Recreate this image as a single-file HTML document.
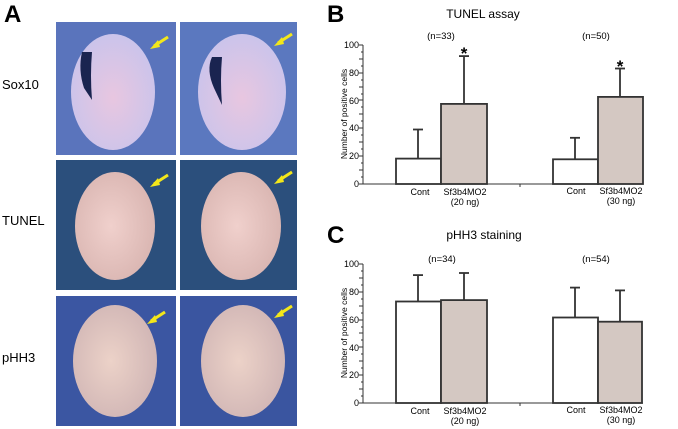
<!DOCTYPE html>
<html><head><style>body{margin:0;background:#fff}svg{display:block}text{font-family:"Liberation Sans",sans-serif}</style></head>
<body>
<svg width="678" height="429" viewBox="0 0 678 429" xmlns="http://www.w3.org/2000/svg">
<defs>
<radialGradient id="e1" cx="0.5" cy="0.55" r="0.6"><stop offset="0" stop-color="#e8c6e0"/><stop offset="1" stop-color="#c8c4ec"/></radialGradient>
<radialGradient id="e2" cx="0.45" cy="0.5" r="0.6"><stop offset="0" stop-color="#f0d0cc"/><stop offset="1" stop-color="#d8b4b0"/></radialGradient>
<radialGradient id="e3" cx="0.45" cy="0.5" r="0.6"><stop offset="0" stop-color="#ecd2c8"/><stop offset="1" stop-color="#cfb4b4"/></radialGradient>
</defs>
<text x="4" y="22" font-size="24" font-weight="bold">A</text>
<text x="2" y="89" font-size="13">Sox10</text>
<text x="2" y="225" font-size="13">TUNEL</text>
<text x="2" y="362" font-size="13">pHH3</text>
<rect x="56" y="22" width="120" height="133" fill="#5a74bc"/>
<rect x="180" y="22" width="117" height="133" fill="#5b78bf"/>
<ellipse cx="113" cy="92" rx="42" ry="58" fill="url(#e1)"/>
<ellipse cx="242" cy="92" rx="44" ry="58" fill="url(#e1)"/>
<path d="M82 52 Q78 70 84 88 L92 100 Q90 75 92 52Z" fill="#1a2450"/>
<path d="M212 57 Q206 70 214 88 L222 105 Q220 80 222 57Z" fill="#1a2450"/>
<rect x="56" y="160" width="120" height="130" fill="#2b4f7c"/>
<rect x="180" y="160" width="117" height="130" fill="#2b4f7c"/>
<ellipse cx="115" cy="226" rx="40" ry="54" fill="url(#e2)"/>
<ellipse cx="241" cy="226" rx="40" ry="54" fill="url(#e2)"/>
<rect x="56" y="296" width="120" height="130" fill="#3b56a2"/>
<rect x="180" y="296" width="117" height="130" fill="#3a55a0"/>
<ellipse cx="115" cy="361" rx="42" ry="56" fill="url(#e3)"/>
<ellipse cx="243" cy="361" rx="42" ry="56" fill="url(#e3)"/>
<g stroke="#f3e71a" stroke-width="3" fill="#f3e71a">
<line x1="168" y1="37" x2="154" y2="46"/><polygon points="150,49 158,40 160,47" stroke="none"/>
<line x1="292" y1="34" x2="278" y2="43"/><polygon points="274,46 282,37 284,44" stroke="none"/>
<line x1="168" y1="175" x2="154" y2="184"/><polygon points="150,187 158,178 160,185" stroke="none"/>
<line x1="292" y1="172" x2="278" y2="181"/><polygon points="274,184 282,175 284,182" stroke="none"/>
<line x1="165" y1="312" x2="151" y2="321"/><polygon points="147,324 155,315 157,322" stroke="none"/>
<line x1="292" y1="306" x2="278" y2="315"/><polygon points="274,318 282,309 284,316" stroke="none"/>
</g>
<text x="327" y="22" font-size="24" font-weight="bold">B</text>
<text x="483" y="18" font-size="12" text-anchor="middle">TUNEL assay</text>
<text x="441" y="39" font-size="9.5" text-anchor="middle">(n=33)</text>
<text x="596" y="39" font-size="9.5" text-anchor="middle">(n=50)</text>
<text x="347" y="114" font-size="8.5" text-anchor="middle" transform="rotate(-90 347 114)">Number of positive cells</text>
<g font-size="9" text-anchor="end">
<text x="359" y="48">100</text><text x="359" y="76">80</text><text x="359" y="104">60</text><text x="359" y="131">40</text><text x="359" y="159">20</text><text x="359" y="187">0</text>
</g>
<g stroke="#333" stroke-width="1" fill="none">
<line x1="363" y1="45" x2="363" y2="184"/>
<line x1="363" y1="184" x2="643" y2="184"/>
<path d="M359 45h4M361 52h2M359 59h4M361 66h2M359 73h4M361 80h2M359 87h4M361 94h2M359 100h4M361 107h2M359 114h4M361 121h2M359 128h4M361 135h2M359 142h4M361 149h2M359 156h4M361 163h2M359 170h4M361 177h2M359 184h4"/>
<line x1="520" y1="184" x2="520" y2="187"/>
</g>
<g stroke="#333" stroke-width="1.8">
<line x1="418" y1="158.6" x2="418" y2="129.5"/><line x1="413" y1="129.5" x2="423" y2="129.5"/>
<line x1="464" y1="103.9" x2="464" y2="56.1"/><line x1="459" y1="56.1" x2="469" y2="56.1"/>
<line x1="575" y1="159.3" x2="575" y2="137.8"/><line x1="570" y1="137.8" x2="580" y2="137.8"/>
<line x1="620" y1="96.9" x2="620" y2="68.5"/><line x1="615" y1="68.5" x2="625" y2="68.5"/>
<rect x="396" y="158.6" width="45" height="25.4" fill="#fff"/>
<rect x="441" y="103.9" width="46" height="80.1" fill="#d4c8c2"/>
<rect x="553" y="159.3" width="45" height="24.7" fill="#fff"/>
<rect x="598" y="96.9" width="45" height="87.1" fill="#d4c8c2"/>
</g>
<text x="464" y="59" font-size="17" font-weight="bold" text-anchor="middle">*</text>
<text x="620" y="72" font-size="17" font-weight="bold" text-anchor="middle">*</text>
<g font-size="9" text-anchor="middle">
<text x="420" y="195">Cont</text><text x="465" y="195">Sf3b4MO2</text><text x="465" y="205">(20 ng)</text>
<text x="576" y="194">Cont</text><text x="621" y="194">Sf3b4MO2</text><text x="621" y="204">(30 ng)</text>
</g>
<text x="327" y="243" font-size="24" font-weight="bold">C</text>
<text x="484" y="239" font-size="12" text-anchor="middle">pHH3 staining</text>
<text x="442" y="262" font-size="9.5" text-anchor="middle">(n=34)</text>
<text x="596" y="262" font-size="9.5" text-anchor="middle">(n=54)</text>
<text x="347" y="333" font-size="8.5" text-anchor="middle" transform="rotate(-90 347 333)">Number of positive cells</text>
<g font-size="9" text-anchor="end">
<text x="359" y="267">100</text><text x="359" y="295">80</text><text x="359" y="323">60</text><text x="359" y="351">40</text><text x="359" y="378">20</text><text x="359" y="406">0</text>
</g>
<g stroke="#333" stroke-width="1" fill="none">
<line x1="363" y1="264" x2="363" y2="403"/>
<line x1="363" y1="403" x2="643" y2="403"/>
<path d="M359 264h4M361 271h2M359 278h4M361 285h2M359 292h4M361 299h2M359 306h4M361 313h2M359 320h4M361 327h2M359 333h4M361 340h2M359 347h4M361 354h2M359 361h4M361 368h2M359 375h4M361 382h2M359 389h4M361 396h2M359 403h4"/>
<line x1="520" y1="403" x2="520" y2="406"/>
</g>
<g stroke="#333" stroke-width="1.8">
<line x1="418" y1="301.5" x2="418" y2="275.1"/><line x1="413" y1="275.1" x2="423" y2="275.1"/>
<line x1="464" y1="300.1" x2="464" y2="273"/><line x1="459" y1="273" x2="469" y2="273"/>
<line x1="575" y1="317.5" x2="575" y2="287.6"/><line x1="570" y1="287.6" x2="580" y2="287.6"/>
<line x1="620" y1="321.7" x2="620" y2="290.4"/><line x1="615" y1="290.4" x2="625" y2="290.4"/>
<rect x="396" y="301.5" width="45" height="101.5" fill="#fff"/>
<rect x="441" y="300.1" width="46" height="102.9" fill="#d4c8c2"/>
<rect x="553" y="317.5" width="45" height="85.5" fill="#fff"/>
<rect x="598" y="321.7" width="44" height="81.3" fill="#d4c8c2"/>
</g>
<g font-size="9" text-anchor="middle">
<text x="420" y="414">Cont</text><text x="465" y="414">Sf3b4MO2</text><text x="465" y="424">(20 ng)</text>
<text x="576" y="413">Cont</text><text x="621" y="413">Sf3b4MO2</text><text x="621" y="423">(30 ng)</text>
</g>
</svg>
</body></html>
